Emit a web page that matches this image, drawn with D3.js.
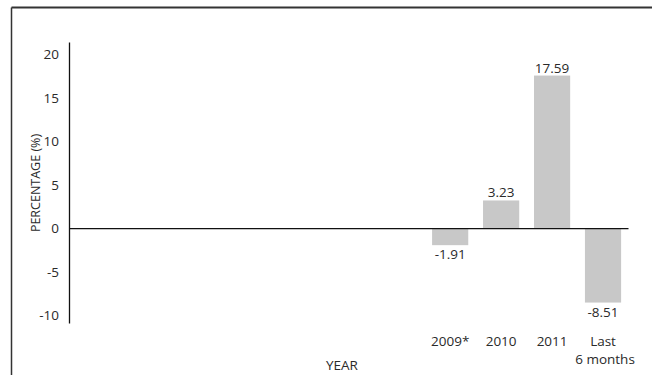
<!DOCTYPE html>
<html>
<head>
<meta charset="utf-8">
<script src="https://cdn.jsdelivr.net/npm/d3@7"></script>
<style>
  html, body { margin: 0; padding: 0; background: #fff; }
  svg { display: block; }
  text { font-family: "Open Sans", "Noto Sans", sans-serif; fill: #2a2a2a; }
</style>
</head>
<body>
<svg id="chart" width="652" height="375"></svg>
<script>
// ---- data ----
const categories = ["2009*", "2010", "2011", "Last|6 months"];
const values = [-1.91, 3.23, 17.59, -8.51];
const valueLabels = ["-1.91", "3.23", "17.59", "-8.51"];
const yTicks = [-10, -5, 0, 5, 10, 15, 20];
const yTitle = "PERCENTAGE (%)";
const xTitle = "YEAR";

// ---- layout ----
const svg = d3.select("#chart");
const axisX = 69;
const plotRight = 628.5;
const fontSize = 13.5;

const y = d3.scaleLinear().domain([-10.86, 21.45]).range([323, 42]);
const x = d3.scaleBand().domain(categories).range([424.7, plotRight])
  .paddingInner(0.29).paddingOuter(0.145);

// frame
svg.append("line").attr("x1", 11.5).attr("x2", 652).attr("y1", 7.5).attr("y2", 7.5)
  .attr("stroke", "#333").attr("stroke-width", 2);
svg.append("line").attr("x1", 11.5).attr("x2", 11.5).attr("y1", 7.5).attr("y2", 375)
  .attr("stroke", "#333").attr("stroke-width", 1.5);

// bars
svg.selectAll("rect.bar").data(values).enter().append("rect")
  .attr("class", "bar")
  .attr("x", (d, i) => x(categories[i]))
  .attr("width", x.bandwidth())
  .attr("y", d => y(Math.max(0, d)))
  .attr("height", d => Math.abs(y(d) - y(0)))
  .attr("fill", "#c8c8c8");

// zero line
svg.append("line").attr("x1", axisX).attr("x2", plotRight)
  .attr("y1", y(0)).attr("y2", y(0))
  .attr("stroke", "#111").attr("stroke-width", 1.3);

// y axis
const yAxis = svg.append("g").attr("transform", `translate(${axisX},0)`)
  .call(d3.axisLeft(y).tickValues(yTicks).tickSize(0).tickPadding(10).tickFormat(d => String(d)));
yAxis.select(".domain").attr("stroke", "#111").attr("stroke-width", 1.3);
yAxis.selectAll("text").attr("font-size", fontSize).attr("fill", "#2a2a2a")
  .style("font-family", '"Open Sans", sans-serif');

// value labels
svg.selectAll("text.val").data(values).enter().append("text")
  .attr("class", "val")
  .attr("x", (d, i) => x(categories[i]) + x.bandwidth() / 2)
  .attr("y", d => d >= 0 ? y(d) - 3 : y(d) + 14)
  .attr("text-anchor", "middle")
  .attr("font-size", fontSize)
  .text((d, i) => valueLabels[i]);

// x category labels (one text element per line)
const catG = svg.append("g");
categories.forEach(c => {
  c.split("|").forEach((line, i) => {
    catG.append("text")
      .attr("x", x(c) + x.bandwidth() / 2 + (i > 0 ? 2 : 0))
      .attr("y", 345.5 + i * 18.5)
      .attr("text-anchor", "middle")
      .attr("font-size", fontSize)
      .text(line);
  });
});

// axis titles
svg.append("text")
  .attr("transform", `translate(40,183) rotate(-90)`)
  .attr("text-anchor", "middle")
  .attr("font-size", 12.5)
  .text(yTitle);
svg.append("text")
  .attr("x", 342).attr("y", 370)
  .attr("text-anchor", "middle")
  .attr("font-size", fontSize)
  .text(xTitle);
</script>
</body>
</html>
